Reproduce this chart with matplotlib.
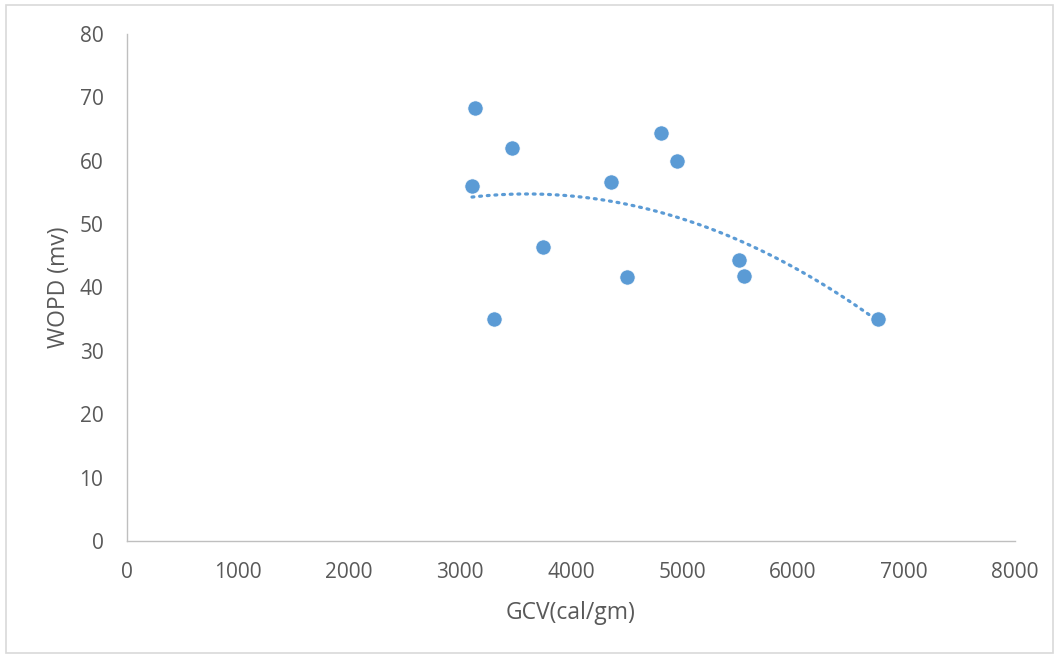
import numpy as np
import matplotlib
matplotlib.use("Agg")
import matplotlib.pyplot as plt
from matplotlib.patches import Rectangle

# values
gcv = [3135, 3108, 3468, 3306, 3748, 4360, 4505, 4811, 4955, 5514, 5559, 6766]
wopd = [68.3, 56.0, 62.0, 35.0, 46.4, 56.6, 41.7, 64.4, 60.0, 44.3, 41.8, 35.0]
x_ticks = [0, 1000, 2000, 3000, 4000, 5000, 6000, 7000, 8000]
y_ticks = [0, 10, 20, 30, 40, 50, 60, 70, 80]

blue = "#5B9BD5"
txt = "#595959"
plt.rcParams["font.family"] = ["Open Sans", "DejaVu Sans"]

fig = plt.figure(figsize=(10.54, 6.56), dpi=100)
ax = fig.add_axes([0.1205, 0.1753, 0.8425, 0.7729])

# second-order polynomial trendline
coef = np.polyfit(gcv, wopd, 2)
xs = np.linspace(min(gcv), max(gcv), 200)
ax.plot(xs, np.polyval(coef, xs), color=blue, lw=2.3, ls=(0, (0.6, 1.8)),
        dash_capstyle="round", zorder=2)
ax.scatter(gcv, wopd, s=120, color=blue, zorder=3, edgecolors="white", linewidths=0.5)

ax.set_xlim(0, 8000)
ax.set_ylim(0, 80)
ax.set_xticks(x_ticks)
ax.set_yticks(y_ticks)
ax.tick_params(length=0, labelsize=15, colors=txt)
ax.tick_params(axis="x", pad=15)
ax.tick_params(axis="y", pad=17)
for s in ["top", "right"]:
    ax.spines[s].set_visible(False)
for s in ["left", "bottom"]:
    ax.spines[s].set_color("#BFBFBF")
    ax.spines[s].set_linewidth(1.0)

ax.set_xlabel("GCV(cal/gm)", fontsize=16.5, color=txt, labelpad=13)
ax.set_ylabel("WOPD (mv)", fontsize=16.5, color=txt, labelpad=6)

fig.patches.append(Rectangle((0.006, 0.004), 0.993, 0.989, transform=fig.transFigure,
                             fill=False, edgecolor="#D9D9D9", lw=1.2))

fig.savefig("out.png", dpi=100)
